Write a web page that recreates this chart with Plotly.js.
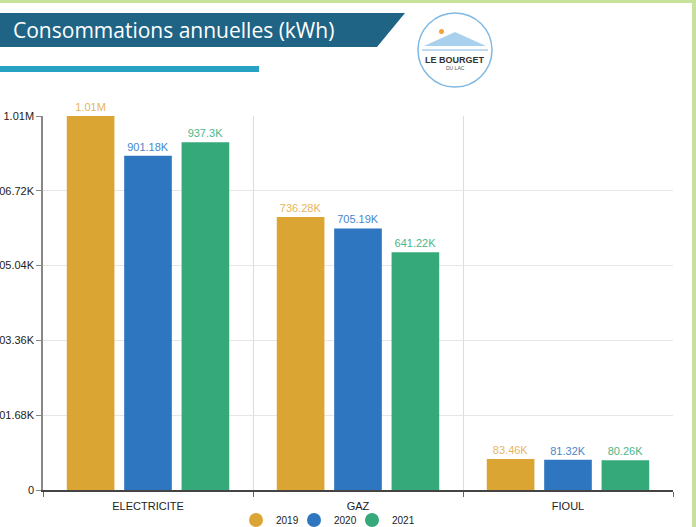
<!DOCTYPE html>
<html>
<head>
<meta charset="utf-8">
<script src="https://cdn.plot.ly/plotly-3.0.1.min.js"></script>
<style>
  body { margin: 0; background: #fff; }
  #plot { width: 696px; height: 527px; }
</style>
</head>
<body>
<div id="plot"></div>
<script>
// energy types and yearly consumption (kWh)
let categories = ['ELECTRICITE', 'GAZ', 'FIOUL'];
let years = ['2019', '2020', '2021'];
let conso2019 = [1008400, 736280, 83460];
let conso2020 = [901180, 705190, 81320];
let conso2021 = [937300, 641220, 80260];
let tickVals = [0, 201680, 403360, 605040, 806720, 1008400];
let tickText = ['0', '201.68K', '403.36K', '605.04K', '806.72K', '1.01M'];

let barColors = ['#DBA533', '#2E76BF', '#35A97A'];
let textColors = ['#E6B560', '#4A86CC', '#4DB68A'];

// 901180 -> "901.18K", 1008400 -> "1.01M"
function fmt(v) {
  if (v >= 1e6) return parseFloat((v / 1e6).toFixed(2)) + 'M';
  return parseFloat((v / 1e3).toFixed(2)) + 'K';
}

let series = [conso2019, conso2020, conso2021];
let data = [];
series.forEach(function (vals, i) {
  data.push({
    x: categories,
    y: vals,
    type: 'bar',
    name: years[i],
    marker: {color: barColors[i]},
    text: vals.map(fmt),
    textposition: 'outside',
    textfont: {color: textColors[i], size: 11, family: 'Liberation Sans, Arial'},
    cliponaxis: false,
    showlegend: false,
    hoverinfo: 'x+y'
  });
});
// round legend markers
years.forEach(function (yr, i) {
  data.push({
    x: [null], y: [null],
    type: 'scatter', mode: 'markers',
    name: yr,
    marker: {color: barColors[i], size: 14, symbol: 'circle'}
  });
});
// empty spacer so the last legend label is not clipped
data.push({
  x: [null], y: [null], type: 'scatter', mode: 'markers', name: ' ',
  marker: {color: 'rgba(0,0,0,0)', size: 1}, hoverinfo: 'skip'
});

// pixel -> paper helpers for the page decoration
let L = 43, R = 673, T = 116, B = 490;
function px(x) { return (x - L) / (R - L); }
function py(y) { return (B - y) / (B - T); }

let shapes = [
  // green page border
  {type: 'rect', xref: 'paper', yref: 'paper', x0: px(0), x1: px(696), y0: py(3), y1: py(0),
   fillcolor: '#C6E29B', line: {width: 0}, layer: 'below'},
  {type: 'rect', xref: 'paper', yref: 'paper', x0: px(692), x1: px(696), y0: py(527), y1: py(0),
   fillcolor: '#C6E29B', line: {width: 0}, layer: 'below'},
  // title banner
  {type: 'path', xref: 'paper', yref: 'paper',
   path: 'M ' + px(0) + ' ' + py(13) + ' L ' + px(405) + ' ' + py(13) + ' L ' + px(377) + ' ' + py(47) +
         ' L ' + px(0) + ' ' + py(47) + ' Z',
   fillcolor: '#1F6485', line: {width: 0}},
  {type: 'rect', xref: 'paper', yref: 'paper', x0: px(0), x1: px(259), y0: py(72), y1: py(66),
   fillcolor: '#27A2C2', line: {width: 0}},
  // logo
  {type: 'circle', xref: 'paper', yref: 'paper', x0: px(418), x1: px(492), y0: py(87), y1: py(13),
   fillcolor: '#fff', line: {color: '#7FB8E2', width: 1.5}},
  {type: 'path', xref: 'paper', yref: 'paper',
   path: 'M ' + px(424) + ' ' + py(46) + ' L ' + px(455) + ' ' + py(32) + ' L ' + px(486) + ' ' + py(46) + ' Z',
   fillcolor: '#A9D0EC', line: {width: 0}},
  {type: 'line', xref: 'paper', yref: 'paper', x0: px(422), x1: px(488), y0: py(50), y1: py(50),
   line: {color: '#7FB8E2', width: 1}},
  {type: 'circle', xref: 'paper', yref: 'paper', x0: px(439), x1: px(444), y0: py(34), y1: py(29),
   fillcolor: '#F2A33A', line: {width: 0}}
];

let annotations = [
  {text: 'Consommations annuelles (kWh)', xref: 'paper', yref: 'paper', x: px(11), y: py(30),
   xanchor: 'left', yanchor: 'middle', showarrow: false,
   font: {family: 'Open Sans', size: 21, color: '#fff'}},
  {text: '<b>LE BOURGET</b>', xref: 'paper', yref: 'paper', x: px(455), y: py(60),
   xanchor: 'center', yanchor: 'middle', showarrow: false,
   font: {family: 'Liberation Sans, Arial', size: 9, color: '#333'}},
  {text: 'DU LAC', xref: 'paper', yref: 'paper', x: px(455), y: py(68),
   xanchor: 'center', yanchor: 'middle', showarrow: false,
   font: {family: 'Liberation Sans, Arial', size: 5, color: '#555'}}
];

let layout = {
  width: 696,
  height: 527,
  margin: {l: L, r: 696 - R, t: T, b: 527 - B},
  paper_bgcolor: '#fff',
  plot_bgcolor: '#fff',
  font: {family: 'Liberation Sans, Arial', size: 11, color: '#222'},
  barmode: 'group',
  bargap: 0.18,
  bargroupgap: 0.17,
  showlegend: true,
  legend: {orientation: 'h', xref: 'container', yref: 'container',
           x: 236 / 696, xanchor: 'left', y: 7 / 527, yanchor: 'middle',
           entrywidth: 13, entrywidthmode: 'pixels',
           bgcolor: 'rgba(0,0,0,0)',
           font: {size: 10, color: '#222'}, tracegroupgap: 0},
  xaxis: {
    type: 'category',
    tickson: 'boundaries',
    ticks: 'outside', ticklen: 5, tickcolor: '#666',
    ticklabelstandoff: 5,
    showgrid: true, gridcolor: '#DDDDDD',
    showline: true, linecolor: '#444', linewidth: 1.5,
    fixedrange: true
  },
  yaxis: {
    range: [0, 1008400],
    tickvals: tickVals,
    ticktext: tickText,
    ticks: 'outside', ticklen: 5, tickcolor: '#888',
    showgrid: true, gridcolor: '#E6E6E6',
    showline: true, linecolor: '#888', linewidth: 1.5,
    zeroline: false,
    automargin: false
  },
  shapes: shapes,
  annotations: annotations
};

Plotly.newPlot('plot', data, layout, {displayModeBar: false});
</script>
</body>
</html>
